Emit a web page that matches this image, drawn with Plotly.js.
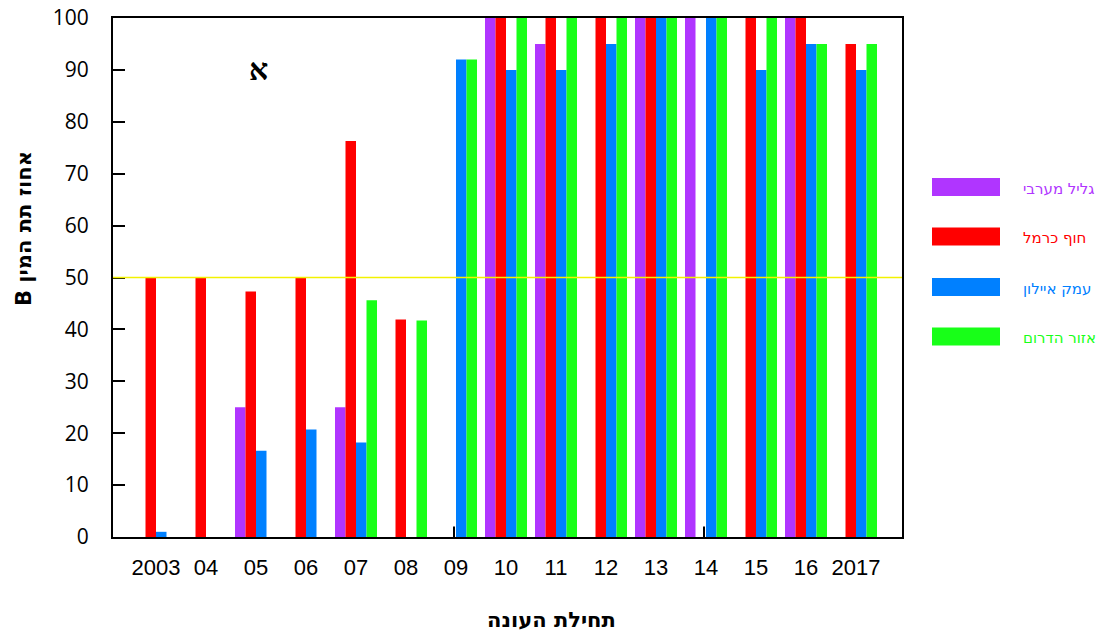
<!DOCTYPE html>
<html>
<head>
<meta charset="utf-8">
<script src="https://cdn.plot.ly/plotly-3.0.1.min.js"></script>
<style>
  html, body { margin: 0; padding: 0; background: #fff; }
  #chart { width: 1109px; height: 634px; }
</style>
</head>
<body>
<div id="chart"></div>
<script>
// Season start (x categories) and their printed labels
const seasons = ['2003', '2004', '2005', '2006', '2007', '2008', '2009', '2010',
                 '2011', '2012', '2013', '2014', '2015', '2016', '2017'];
const seasonLabels = ['2003', '04', '05', '06', '07', '08', '09', '10',
                      '11', '12', '13', '14', '15', '16', '2017'];

// Share of subtype B (%) per region; null = no bar
const westernGalilee = [null, null, 25, null, 25, null, null, 100, 95, null, 100, 100, null, 100, null];
const carmelCoast    = [50, 50, 47.3, 50, 76.3, 41.9, null, 100, 100, 100, 100, null, 100, 100, 95];
const ayalonValley   = [1, null, 16.6, 20.7, 18.2, null, 92, 90, 90, 95, 100, 100, 90, 95, 90];
const southRegion    = [null, null, null, null, 45.6, 41.7, 92, 100, 100, 100, 100, 100, 100, 95, 95];

const regionNames  = ['גליל מערבי', 'חוף כרמל', 'עמק איילון', 'אזור הדרום'];
const regionValues = [westernGalilee, carmelCoast, ayalonValley, southRegion];
const regionColors = ['#B035FF', '#FF0000', '#0080FF', '#18FF18'];

// Threshold line and small stub marks at the bottom axis
const thresholdValue = 50;
const stubSeasons = ['2009', '2014'];
const stubHeight = 2;

const yTicks = [0, 10, 20, 30, 40, 50, 60, 70, 80, 90, 100];

const plotLeft = 113, plotRight = 902, plotTop = 18, plotBottom = 537;
const W = 1109, H = 634;
const px2x = p => (p - plotLeft) / (plotRight - plotLeft);
const px2y = p => (plotBottom - p) / (plotBottom - plotTop);

// Right-to-left embedding so mixed Hebrew/Latin titles keep their reading order
const rtl = s => '\u202B' + s + '\u202C';

const traces = regionNames.map((name, i) => ({
  type: 'bar',
  name: name,
  x: seasons,
  y: regionValues[i],
  marker: { color: regionColors[i], line: { width: 0 } },
  hoverinfo: 'x+y+name',
  showlegend: false
}));

const shapes = [{
  type: 'line', xref: 'paper', yref: 'y', layer: 'above',
  x0: 0, x1: 1, y0: thresholdValue, y1: thresholdValue,
  line: { color: '#F2F200', width: 1.5 }
}];

stubSeasons.forEach(s => {
  const idx = seasons.indexOf(s);
  shapes.push({
    type: 'line', xref: 'x', yref: 'y', layer: 'above',
    x0: idx - 0.04, x1: idx - 0.04, y0: 0, y1: stubHeight,
    line: { color: '#000', width: 2 }
  });
});

const annotations = [];

// Hand-built legend: colour swatch plus name in the series colour
const legendRows = [187, 236.5, 287, 336.5];
regionNames.forEach((name, i) => {
  const cy = legendRows[i];
  shapes.push({
    type: 'rect', xref: 'paper', yref: 'paper', layer: 'above',
    x0: px2x(932), x1: px2x(1000), y0: px2y(cy + 9), y1: px2y(cy - 9),
    fillcolor: regionColors[i], line: { width: 0 }
  });
  annotations.push({
    xref: 'paper', yref: 'paper', x: px2x(1021), y: px2y(cy + 1.5),
    xanchor: 'left', yanchor: 'middle', showarrow: false,
    text: name,
    font: { family: 'DejaVu Sans, Liberation Sans, sans-serif', size: 15, color: regionColors[i] }
  });
});

// Panel letter
annotations.push({
  xref: 'paper', yref: 'paper', x: px2x(258), y: px2y(69),
  xanchor: 'center', yanchor: 'middle', showarrow: false,
  text: 'א',
  font: { family: 'Liberation Serif, DejaVu Serif, serif', size: 30, color: '#000', weight: 'bold' }
});

// Axis titles
annotations.push({
  xref: 'paper', yref: 'paper', x: px2x(24), y: px2y(229),
  xanchor: 'center', yanchor: 'middle', showarrow: false, textangle: -90,
  text: rtl('אחוז תת המין B'),
  font: { family: 'DejaVu Sans, Liberation Sans, sans-serif', size: 21, color: '#000', weight: 'bold' }
});
annotations.push({
  xref: 'paper', yref: 'paper', x: px2x(551), y: px2y(620),
  xanchor: 'center', yanchor: 'middle', showarrow: false,
  text: rtl('תחילת העונה'),
  font: { family: 'DejaVu Sans, Liberation Sans, sans-serif', size: 21, color: '#000', weight: 'bold' }
});

const layout = {
  width: W, height: H,
  margin: { l: plotLeft, r: W - plotRight, t: plotTop, b: H - plotBottom, pad: 0 },
  paper_bgcolor: '#fff', plot_bgcolor: '#fff',
  barmode: 'group', bargap: 0.16, bargroupgap: 0,
  showlegend: false,
  xaxis: {
    type: 'category',
    categoryorder: 'array', categoryarray: seasons,
    tickvals: seasons, ticktext: seasonLabels,
    range: [-0.86, 14.92],
    showline: true, linecolor: '#000', linewidth: 2, mirror: true,
    ticks: '', showgrid: false, zeroline: false,
    ticklabelstandoff: 10,
    tickfont: { family: 'Liberation Sans Narrow, Liberation Sans, sans-serif', size: 22, color: '#000' }
  },
  yaxis: {
    range: [0, 100], tickvals: yTicks,
    showline: true, linecolor: '#000', linewidth: 2, mirror: true,
    ticks: 'inside', ticklen: 12, tickwidth: 2, tickcolor: '#000',
    showgrid: false, zeroline: false,
    ticklabelstandoff: 18,
    tickfont: { family: 'Open Sans, DejaVu Sans, sans-serif', size: 21, color: '#000' }
  },
  shapes: shapes,
  annotations: annotations
};

Plotly.newPlot('chart', traces, layout, { displayModeBar: false, staticPlot: true });
</script>
</body>
</html>
